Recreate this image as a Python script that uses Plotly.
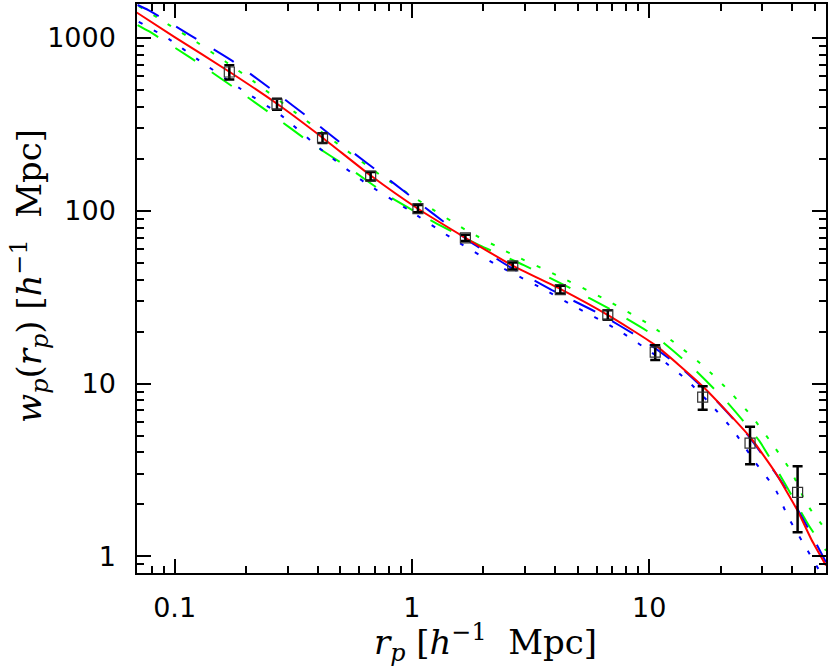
import plotly.graph_objects as go

# ---- measured data points ----
rp_data = [0.17, 0.27, 0.42, 0.67, 1.06, 1.68, 2.66, 4.22, 6.69, 10.6, 16.8, 26.6, 42.2]
wp_data = [636, 415, 264, 159, 103, 69.8, 48.0, 35.0, 25.0, 15.2, 8.35, 4.52, 2.35]
wp_err = [60, 31, 17, 9, 5, 3, 2.2, 1.8, 1.6, 1.5, 1.3, 1.1, 0.97]

# ---- model curves ----
red_r = [0.0692, 0.1, 0.170, 0.271, 0.420, 0.670, 1.06, 1.68, 2.67, 4.25, 6.70, 10.6, 16.8, 26.6, 33.9, 42.1, 48.3, 55.6]
red_w = [1406, 1013, 638, 415, 265, 160, 102.8, 69.8, 48.0, 35.1, 24.9, 16.7, 9.66, 4.91, 3.08, 1.85, 1.25, 0.887]

blue_dash_r = [0.0698, 0.0775, 0.117, 0.175, 0.258, 0.381, 0.518, 0.813, 1.20, 1.74, 2.58, 3.89, 6.02, 9.39, 13.5, 19.1, 26.4, 36.7, 46.8, 55.6]
blue_dash_w = [1553, 1452, 1034, 738, 500, 333, 238, 149, 98.6, 67.0, 47.4, 34.8, 25.8, 18.0, 12.5, 8.02, 4.91, 2.61, 1.45, 0.925]

green_dot_r = [0.0706, 0.0935, 0.125, 0.164, 0.216, 0.324, 0.485, 0.726, 1.11, 1.69, 2.64, 4.15, 6.53, 10.1, 13.5, 17.2, 21.9, 27.3, 33.3, 39.8, 46.0, 55.6]
green_dot_w = [1531, 1205, 939, 729, 559, 369, 245, 163, 111, 77.3, 56.0, 41.9, 30.7, 21.8, 16.3, 12.4, 8.96, 6.37, 4.40, 3.08, 2.02, 1.42]

blue_dot_r = [0.0706, 0.0950, 0.125, 0.188, 0.280, 0.422, 0.628, 0.959, 1.47, 2.25, 3.51, 4.72, 7.31, 11.1, 14.4, 18.3, 22.6, 27.9, 33.9, 38.5, 46.0, 52.6]
blue_dot_w = [1242, 983, 753, 512, 358, 222, 147, 102, 69.5, 49.0, 35.8, 28.5, 20.6, 14.0, 10.5, 7.50, 5.37, 3.52, 2.47, 1.69, 1.11, 0.81]

green_dash_r = [0.0698, 0.0778, 0.116, 0.175, 0.256, 0.375, 0.543, 0.820, 1.25, 1.93, 2.96, 4.54, 6.96, 10.6, 15.2, 21.4, 29.1, 37.3, 47.2, 55.6]
green_dash_w = [1189, 1095, 773, 525, 362, 247, 177, 119, 85.5, 63.1, 48.5, 36.3, 26.6, 18.8, 12.4, 7.74, 4.66, 2.64, 1.50, 1.08]

x_tickvals = [0.1, 1, 10]
x_ticktext = ["0.1", "1", "10"]
y_tickvals = [1, 10, 100, 1000]
y_ticktext = ["1", "10", "100", "1000"]
x_minor = [0.07, 0.08, 0.09, 0.2, 0.3, 0.4, 0.5, 0.6, 0.7, 0.8, 0.9,
           2, 3, 4, 5, 6, 7, 8, 9, 20, 30, 40, 50]
y_minor = [0.9, 2, 3, 4, 5, 6, 7, 8, 9, 20, 30, 40, 50, 60, 70, 80, 90,
           200, 300, 400, 500, 600, 700, 800, 900]

fig = go.Figure()

def add_curve(r, w, color, dash):
    fig.add_trace(go.Scatter(x=r, y=w, mode="lines",
                             line=dict(color=color, width=2, dash=dash, shape="spline", smoothing=0.5),
                             showlegend=False, hoverinfo="skip"))

DOT = "4px,13px"
LDASH = "24px,20px"
add_curve(green_dot_r, green_dot_w, "#00ff00", DOT)
add_curve(green_dash_r, green_dash_w, "#00ff00", LDASH)
add_curve(blue_dot_r, blue_dot_w, "#0000ff", DOT)
add_curve(blue_dash_r, blue_dash_w, "#0000ff", LDASH)
add_curve(red_r, red_w, "#ff0000", "solid")

fig.add_trace(go.Scatter(
    x=rp_data, y=wp_data, mode="markers",
    marker=dict(symbol="square-open", size=10, color="#333333", line=dict(width=1.2, color="#333333")),
    error_y=dict(type="data", array=wp_err, color="black", thickness=2.5, width=5),
    showlegend=False, hoverinfo="skip"))

axis_common = dict(
    type="log", ticks="inside", ticklen=14, tickwidth=1.5, tickcolor="black",
    showline=True, linecolor="black", linewidth=1.5, mirror="allticks",
    showgrid=False, zeroline=False,
    tickfont=dict(family="DejaVu Sans", size=27, color="black"),
)

fig.update_layout(
    width=830, height=668,
    margin=dict(l=137, r=2, t=4, b=95),
    paper_bgcolor="white", plot_bgcolor="white",
    xaxis=dict(axis_common, range=[-1.1586, 1.745], tickmode="array",
               tickvals=x_tickvals, ticktext=x_ticktext, ticklabelstandoff=10,
               minor=dict(tickmode="array", tickvals=x_minor, ticks="inside", ticklen=7,
                          tickwidth=1.5, tickcolor="black", showgrid=False)),
    yaxis=dict(axis_common, range=[-0.096, 3.197], tickmode="array",
               tickvals=y_tickvals, ticktext=y_ticktext, ticklabelstandoff=14,
               minor=dict(tickmode="array", tickvals=y_minor, ticks="inside", ticklen=7,
                          tickwidth=1.5, tickcolor="black", showgrid=False)),
)

title_font = dict(family="DejaVu Serif", size=34, color="black")
fig.add_annotation(
    text="<i>r</i><sub><i>p</i></sub>\u00a0[<i>h</i><sup>\u22121</sup>\u00a0\u00a0Mpc]",
    xref="paper", yref="paper", x=0.5065, y=-0.1225, xanchor="center", yanchor="middle",
    showarrow=False, font=title_font)
fig.add_annotation(
    text="<i>w</i><sub><i>p</i></sub>(<i>r</i><sub><i>p</i></sub>)\u00a0[<i>h</i><sup>\u22121</sup>\u00a0\u00a0Mpc]",
    xref="paper", yref="paper", x=-0.1554, y=0.522, xanchor="center", yanchor="middle",
    textangle=-90, showarrow=False, font=title_font)

fig.write_html("out.html", config={"displayModeBar": False},
               post_script="document.body.style.margin='0';document.body.style.overflow='hidden';")
